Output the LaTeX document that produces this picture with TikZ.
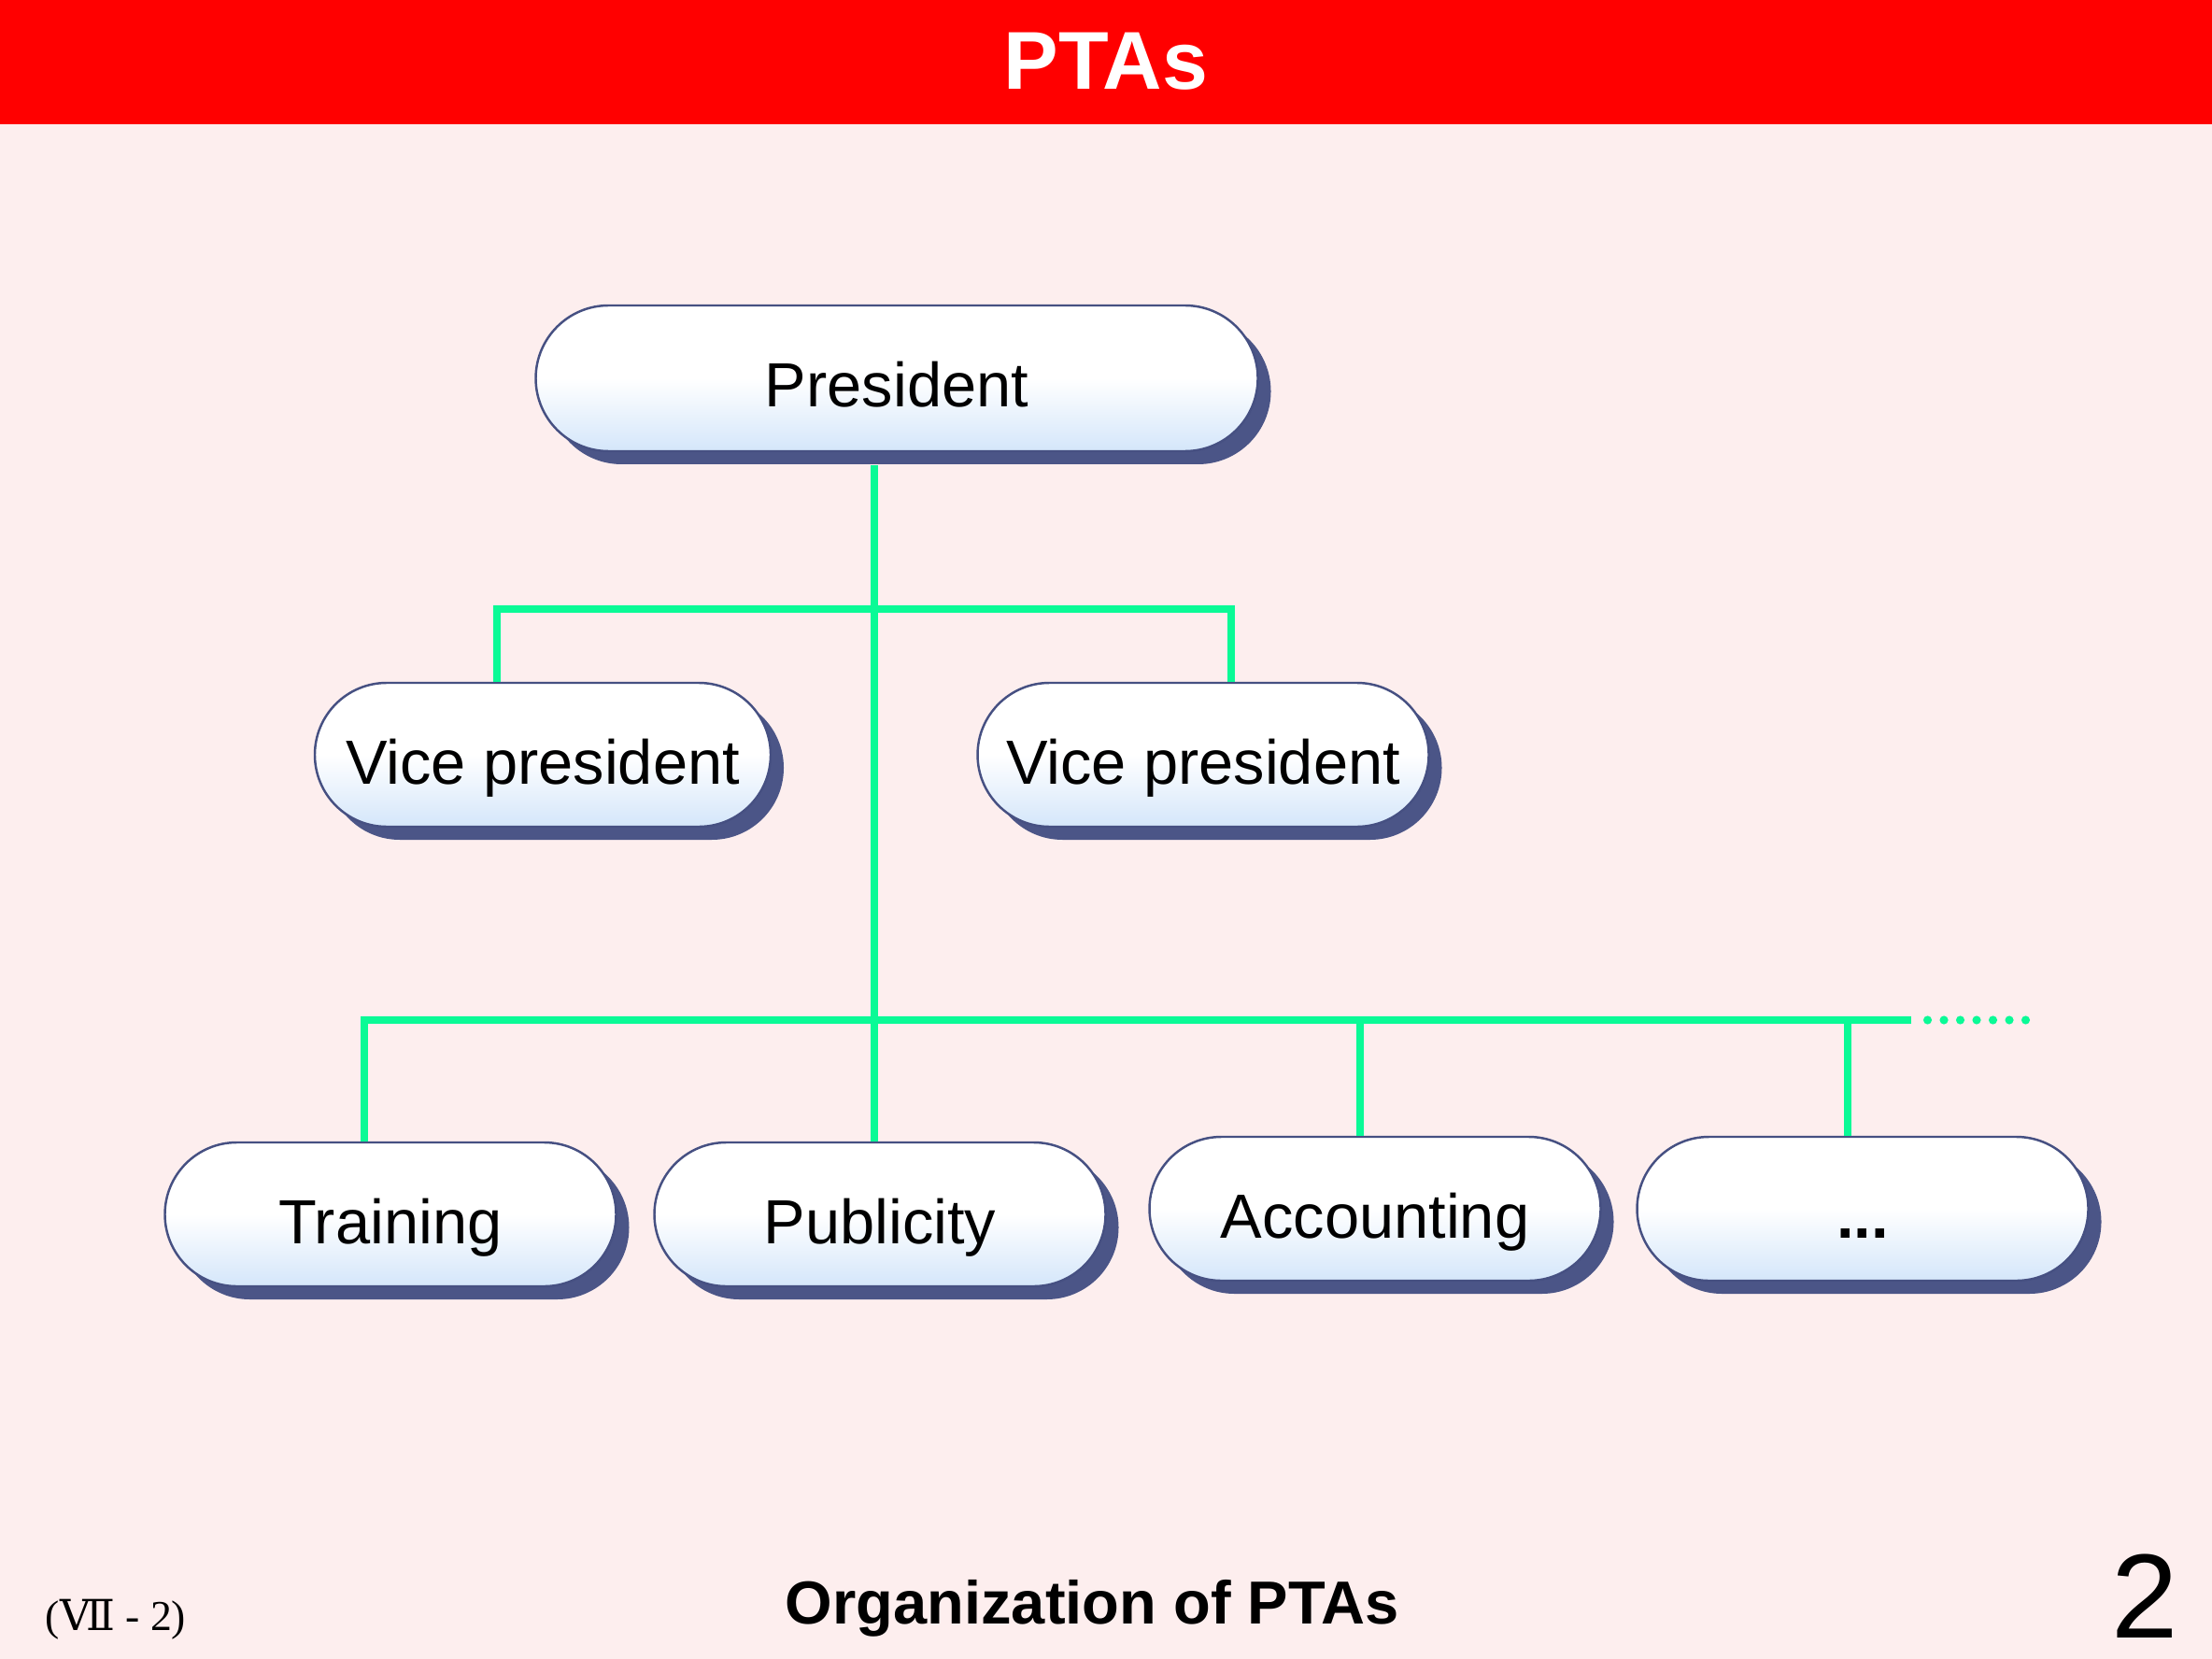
\documentclass[tikz,border=0pt]{standalone}
\usepackage{fontspec}
\setmainfont{Liberation Sans}
\newfontfamily\numfont{DejaVu Serif}
\newfontfamily\serfont{Liberation Serif}
\usepackage{xcolor}
\usepackage{tikz}
\usetikzlibrary{shapes.misc,shadows,positioning,calc}
\definecolor{bgpink}{RGB}{253,238,238}
\definecolor{barred}{RGB}{255,0,0}
\definecolor{pillline}{RGB}{70,80,130}
\definecolor{pillshadow}{RGB}{75,85,135}
\definecolor{pillblue}{RGB}{212,230,250}
\definecolor{linkgreen}{RGB}{10,250,150}
\tikzset{
  orgbox/.style={rounded rectangle,draw=pillline,line width=0.7pt,
    top color=white,bottom color=pillblue,middle color=white,
    drop shadow={shadow xshift=1.4mm,shadow yshift=-1.4mm,fill=pillshadow,opacity=1},
    minimum width=4.83cm,minimum height=1.54cm,inner sep=0pt,
    text height=0.62cm,text depth=0pt,
    font=\fontsize{19}{22}\selectfont},
  link/.style={linkgreen,line width=2.4pt},
  linkdots/.style={linkgreen,line width=2.6pt,line cap=round,dash pattern=on 0pt off 1.75mm}
}

\begin{document}
\begin{tikzpicture}
  \useasboundingbox (0,0) rectangle (23.68,-17.76);
  \fill[bgpink] (0,0) rectangle (23.68,-17.76);
  \fill[barred] (0,0) rectangle (23.68,-1.33);
  \node[text=white,font=\bfseries\fontsize{25}{28}\selectfont] (title) at (11.84,-0.66) {PTAs};

  \node[orgbox,minimum width=7.73cm,minimum height=1.56cm] (pres) at (9.60,-4.05) {President};
  \node[orgbox,minimum width=4.88cm] (vp1) at (5.81,-8.08) {Vice president};
  \node[orgbox] (vp2) at (12.88,-8.08) {Vice president};
  \node[orgbox] (train) at (4.18,-13.00) {Training};
  \node[orgbox] (pub) at (9.42,-13.00) {Publicity};
  \node[orgbox] (acct) at (14.72,-12.94) {Accounting};
  \node[orgbox] (more) at (19.94,-12.94) {\textbf{...}};

  \coordinate (vpbar) at (9.36,-6.52);
  \coordinate (subbar) at (9.36,-10.92);
  \coordinate (barend) at (20.46,-10.92);
  \coordinate (dotend) at (21.79,-10.92);
  \draw[link] ([yshift=-1.4mm]pres.south -| subbar) -- (subbar |- pub.north);
  \draw[link] ([xshift=-4.9mm]vp1.north) |- (vpbar) -| ([xshift=3mm]vp2.north);
  \draw[link] ([xshift=-2.8mm]train.north) |- (barend);
  \draw[link] ([xshift=-1.6mm]acct.north) -- ([xshift=-1.6mm]acct.north |- subbar);
  \draw[link] ([xshift=-1.6mm]more.north) -- ([xshift=-1.6mm]more.north |- subbar);
  \draw[linkdots] ([xshift=1.75mm]barend) -- (dotend);

  \node[anchor=base,font=\bfseries\fontsize{18.5}{22}\selectfont] (caption) at (11.69,-17.38) {Organization of PTAs};
  \node[anchor=base,font=\serfont\fontsize{13}{15}\selectfont] (chap) at (1.24,-17.45) {({\numfont Ⅶ} - 2)};
  \node[anchor=base,font=\fontsize{36.5}{40}\selectfont] (pageno) at (22.96,-17.53) {2};
\end{tikzpicture}
\end{document}
